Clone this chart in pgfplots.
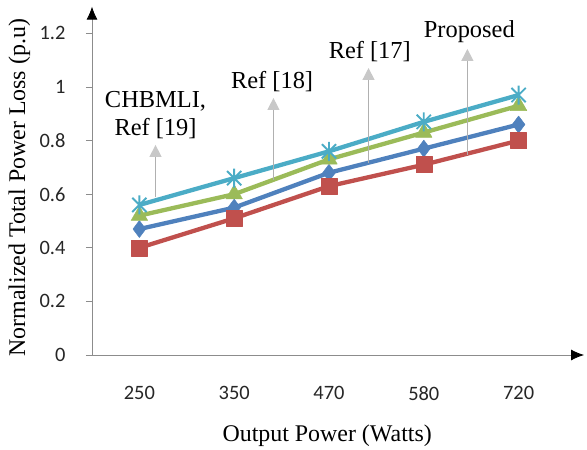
\documentclass[border=0pt]{standalone}
\usepackage{fontspec}
\setmainfont{Liberation Serif}
\newfontfamily\calibri{Carlito}
\usepackage{pgfplots}
\pgfplotsset{compat=1.18}
\usetikzlibrary{arrows.meta}

\definecolor{sblue}{HTML}{4F81BD}
\definecolor{sred}{HTML}{C0504D}
\definecolor{sgreen}{HTML}{9BBB59}
\definecolor{scyan}{HTML}{4BACC6}
\definecolor{agray}{HTML}{8C8C8C}
\definecolor{lgray}{HTML}{B0B0B0}
\definecolor{hgray}{HTML}{C8C8C8}

% Excel-like star marker: x plus a vertical bar
\pgfdeclareplotmark{xstar}{%
  \pgfpathmoveto{\pgfqpoint{-0.75\pgfplotmarksize}{-0.75\pgfplotmarksize}}%
  \pgfpathlineto{\pgfqpoint{0.75\pgfplotmarksize}{0.75\pgfplotmarksize}}%
  \pgfpathmoveto{\pgfqpoint{-0.75\pgfplotmarksize}{0.75\pgfplotmarksize}}%
  \pgfpathlineto{\pgfqpoint{0.75\pgfplotmarksize}{-0.75\pgfplotmarksize}}%
  \pgfpathmoveto{\pgfqpoint{0pt}{-\pgfplotmarksize}}%
  \pgfpathlineto{\pgfqpoint{0pt}{\pgfplotmarksize}}%
  \pgfusepathqstroke}

\begin{document}
\begin{tikzpicture}
\path[use as bounding box] (-92bp,-95bp) rectangle (495bp,355bp);
\begin{axis}[
  scale only axis,
  width=492bp, height=348.4bp,
  xmin=-0.5, xmax=4.69,
  ymin=0, ymax=1.3,
  axis lines*=left,
  axis line style={agray, line width=0.8bp, -{Latex[color=black,length=13bp,width=11bp]}},
  xtick={0,1,2,3,4},
  xticklabels={250,350,470,580,720},
  ytick={0,0.2,0.4,0.6,0.8,1,1.2},
  yticklabels={0,0.2,0.4,0.6,0.8,1,1.2},
  x tick style={draw=none},
  y tick style={agray, line width=0.8bp},
  tick align=outside,
  major tick length=6bp,
  ticklabel style={font=\calibri\fontsize{20.5}{24}\selectfont, text=black!85},
  xticklabel style={yshift=-22bp},
  yticklabel style={xshift=-17bp},
  xlabel={Output Power (Watts)},
  ylabel={Normalized Total Power Loss (p.u)},
  label style={font=\fontsize{24}{28}\selectfont},
  xlabel style={at={(axis description cs:0.478,-0.247)}, anchor=base},
  ylabel style={at={(axis description cs:-0.136,0.48)}, rotate=0, anchor=base},
  clip=false,
  every axis plot/.append style={line width=4.3bp, line join=round},
]
\addplot[sblue, mark=diamond*, mark size=8.5bp, mark options={line width=0.5bp}]
  coordinates {(0,0.47) (1,0.55) (2,0.68) (3,0.77) (4,0.86)};
\addplot[sred, mark=square*, mark size=8bp, mark options={line width=0.5bp}]
  coordinates {(0,0.40) (1,0.51) (2,0.63) (3,0.71) (4,0.80)};
\addplot[sgreen, mark=triangle*, mark size=9.5bp, mark options={line width=0.5bp}]
  coordinates {(0,0.52) (1,0.60) (2,0.73) (3,0.83) (4,0.93)};
\addplot[scyan, mark=xstar, mark size=9.5bp, mark options={line width=1.9bp}]
  coordinates {(0,0.56) (1,0.66) (2,0.76) (3,0.87) (4,0.97)};

\tikzset{annot/.style={lgray, line width=1.3bp, -{Triangle[color=hgray,length=12bp,width=12bp]}}}
\draw[annot] (axis cs:0.17,0.59) -- (axis cs:0.17,0.784);
\draw[annot] (axis cs:1.414,0.653) -- (axis cs:1.414,0.959);
\draw[annot] (axis cs:2.417,0.716) -- (axis cs:2.417,1.071);
\draw[annot] (axis cs:3.46,0.746) -- (axis cs:3.46,1.142);

\tikzset{annottext/.style={font=\fontsize{24.5}{28}\selectfont, align=center, inner sep=0pt}}
\node[annottext] at (axis cs:0.17,0.895) {CHBMLI,\\Ref [19]};
\node[annottext] at (axis cs:1.40,1.019) {Ref [18]};
\node[annottext] at (axis cs:2.43,1.134) {Ref [17]};
\node[annottext] at (axis cs:3.48,1.205) {Proposed};
\end{axis}
\end{tikzpicture}
\end{document}
